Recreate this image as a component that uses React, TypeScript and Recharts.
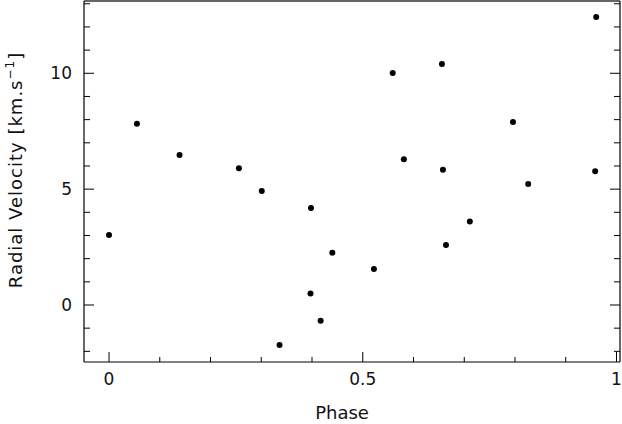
import React from "react";
import { ScatterChart, Scatter, XAxis, YAxis } from "recharts";

const phase = [0.0, 0.055, 0.139, 0.256, 0.301, 0.398, 0.44, 0.397, 0.417, 0.336, 0.522, 0.559, 0.581, 0.656, 0.658, 0.664, 0.711, 0.796, 0.826, 0.96, 0.958];
const velocity = [3.02, 7.82, 6.47, 5.9, 4.92, 4.19, 2.26, 0.5, -0.68, -1.73, 1.55, 10.01, 6.29, 10.4, 5.84, 2.59, 3.6, 7.9, 5.22, 12.43, 5.77];

const xTicks = [0, 0.1, 0.2, 0.3, 0.4, 0.5, 0.6, 0.7, 0.8, 0.9, 1.0];
const xMajor = [0, 0.5, 1];
const xLabels = ["0", "0.5", "1"];
const yTicks = [-2, -1, 0, 1, 2, 3, 4, 5, 6, 7, 8, 9, 10, 11, 12, 13];
const yMajor = [0, 5, 10];
const yLabels = ["0", "5", "10"];

const data = phase.map((p, i) => ({ phase: p, velocity: velocity[i] }));

const FONT = "'DejaVu Sans', sans-serif";
const TEXT = "#111";

const BottomTick = (props: any) => {
  const { x, y, payload } = props;
  const idx = xMajor.indexOf(payload.value);
  const major = idx >= 0;
  return (
    <g>
      <line x1={x} y1={y} x2={x} y2={y - (major ? 10 : 5)} stroke="#000" strokeWidth={1} />
      {major && (
        <text x={x} y={y + 23} textAnchor="middle" fontFamily={FONT} fontSize={17} fill={TEXT}>
          {xLabels[idx]}
        </text>
      )}
    </g>
  );
};

const TopTick = (props: any) => {
  const { x, y, payload } = props;
  const major = xMajor.indexOf(payload.value) >= 0;
  return <line x1={x} y1={y} x2={x} y2={y + (major ? 10 : 5)} stroke="#000" strokeWidth={1} />;
};

const LeftTick = (props: any) => {
  const { x, y, payload } = props;
  const idx = yMajor.indexOf(payload.value);
  const major = idx >= 0;
  return (
    <g>
      <line x1={x} y1={y} x2={x + (major ? 10 : 6)} y2={y} stroke="#000" strokeWidth={1} />
      {major && (
        <text x={x - 12} y={y} dy="0.36em" textAnchor="end" fontFamily={FONT} fontSize={17} fill={TEXT}>
          {yLabels[idx]}
        </text>
      )}
    </g>
  );
};

const RightTick = (props: any) => {
  const { x, y, payload } = props;
  const major = yMajor.indexOf(payload.value) >= 0;
  return <line x1={x} y1={y} x2={x - (major ? 10 : 6)} y2={y} stroke="#000" strokeWidth={1} />;
};

const xDomain: [number, number] = [-0.0493, 1.0069];
const yDomain: [number, number] = [-2.46, 13.12];

export default function App() {
  return (
    <div style={{ position: "absolute", left: 0, top: 0, width: 622, height: 424, background: "#fff" }}>
      <ScatterChart width={622} height={424} margin={{ top: 0, right: 1, bottom: 0, left: 0 }}>
        <XAxis
          xAxisId="b"
          type="number"
          dataKey="phase"
          domain={xDomain}
          ticks={xTicks}
          interval={0}
          allowDataOverflow
          height={62}
          tickSize={0}
          tickMargin={0}
          tick={<BottomTick />}
          axisLine={{ stroke: "#000", strokeWidth: 1.2 }}
        />
        <XAxis
          xAxisId="t"
          orientation="top"
          type="number"
          domain={xDomain}
          ticks={xTicks}
          interval={0}
          allowDataOverflow
          height={1}
          tickSize={0}
          tickMargin={0}
          tick={<TopTick />}
          axisLine={{ stroke: "#333", strokeWidth: 1.5 }}
        />
        <YAxis
          yAxisId="l"
          type="number"
          dataKey="velocity"
          domain={yDomain}
          ticks={yTicks}
          interval={0}
          allowDataOverflow
          width={84}
          tickSize={0}
          tickMargin={0}
          tick={<LeftTick />}
          axisLine={{ stroke: "#000", strokeWidth: 1.2 }}
        />
        <YAxis
          yAxisId="r"
          orientation="right"
          type="number"
          domain={yDomain}
          ticks={yTicks}
          interval={0}
          allowDataOverflow
          width={1}
          tickSize={0}
          tickMargin={0}
          tick={<RightTick />}
          axisLine={{ stroke: "#000", strokeWidth: 1.2 }}
        />
        <Scatter
          xAxisId="b"
          yAxisId="l"
          data={data}
          fill="#000"
          isAnimationActive={false}
          shape={(p: any) => <circle cx={p.cx} cy={p.cy} r={3} fill="#000" />}
        />
      </ScatterChart>
      <svg width={622} height={424} style={{ position: "absolute", left: 0, top: 0, pointerEvents: "none" }}>
        <text x={342} y={419} textAnchor="middle" fontFamily={FONT} fontSize={18} fill={TEXT}>
          Phase
        </text>
        <text
          transform="translate(22,170) rotate(-90)"
          textAnchor="middle"
          fontFamily={FONT}
          fontSize={18}
          letterSpacing={1}
          fill={TEXT}
        >
          Radial Velocity [km.s
          <tspan dy={-8} fontSize={12}>−1</tspan>
          <tspan dy={8}>]</tspan>
        </text>
      </svg>
    </div>
  );
}
